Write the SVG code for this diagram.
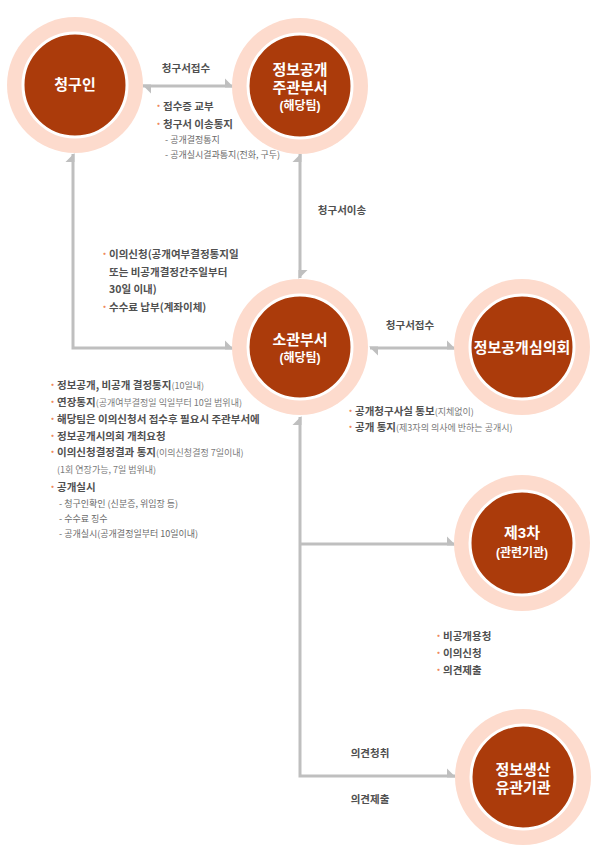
<svg xmlns="http://www.w3.org/2000/svg" width="603" height="849" viewBox="0 0 603 849">
<style>
text{font-family:"Noto Sans CJK KR","Noto Sans",sans-serif;}
.outer{fill:#fddbcd;}
.inner{fill:#ab3b0b;stroke:#ffffff;stroke-width:3;}
.nt{font-family:"Liberation Sans","Noto Sans CJK KR",sans-serif;fill:#ffffff;font-size:15px;font-weight:bold;text-anchor:middle;}
.ns{fill:#ffffff;font-size:12px;font-weight:bold;}
.lbl{fill:#505050;font-size:10.5px;font-weight:bold;}
.bt{fill:#505050;font-size:10.5px;font-weight:bold;}
.dot{fill:#f08a5d;font-weight:bold;font-size:12px;}
.sm{fill:#7a7a7a;font-size:9px;font-weight:normal;}
.sub{fill:#6a6a6a;font-size:9px;}
.ln{fill:none;stroke:#bfbfbf;stroke-width:3;}
</style>
<defs>
<marker id="h" viewBox="-10 -10 13 14" refX="0" refY="0" markerWidth="13" markerHeight="14" markerUnits="userSpaceOnUse" orient="auto-start-reverse">
<path d="M-8,-7.5 L1,1.5 L-8,1.5 Z" fill="#bfbfbf"/>
</marker>
</defs>

<g id="connectors">
<path class="ln" d="M143,86 H233" marker-start="url(#h)" marker-end="url(#h)"/>
<path class="ln" d="M300,154 V278" marker-start="url(#h)" marker-end="url(#h)"/>
<path class="ln" d="M233,348 H73 V154" marker-start="url(#h)" marker-end="url(#h)"/>
<path class="ln" d="M370,348 H455" marker-start="url(#h)" marker-end="url(#h)"/>
<path class="ln" d="M300,417 V776 H455" marker-start="url(#h)" marker-end="url(#h)"/>
<path class="ln" d="M300,544 H455" marker-end="url(#h)"/>
</g>

<g id="node-requester">
<circle class="outer" cx="75" cy="85" r="68"/>
<circle class="inner" cx="75" cy="85" r="52"/>
<text class="nt" x="75" y="90">청구인</text>
</g>

<g id="node-main-dept">
<circle class="outer" cx="300" cy="86" r="68"/>
<circle class="inner" cx="300" cy="86" r="52"/>
<text class="nt" x="300" y="75">정보공개<tspan x="300" dy="18">주관부서</tspan><tspan class="ns" x="300" dy="17">(해당팀)</tspan></text>
</g>

<g id="node-dept">
<circle class="outer" cx="300" cy="347" r="68"/>
<circle class="inner" cx="300" cy="347" r="52"/>
<text class="nt" x="300" y="345">소관부서<tspan class="ns" x="300" dy="17">(해당팀)</tspan></text>
</g>

<g id="node-committee">
<circle class="outer" cx="522" cy="347" r="68"/>
<circle class="inner" cx="522" cy="347" r="52"/>
<text class="nt" x="522" y="353">정보공개심의회</text>
</g>

<g id="node-third">
<circle class="outer" cx="522" cy="543" r="68"/>
<circle class="inner" cx="522" cy="543" r="52"/>
<text class="nt" x="522" y="538">제3차<tspan class="ns" x="522" dy="19">(관련기관)</tspan></text>
</g>

<g id="node-producer">
<circle class="outer" cx="523" cy="777" r="68"/>
<circle class="inner" cx="523" cy="777" r="52"/>
<text class="nt" x="523" y="775">정보생산<tspan x="523" dy="18">유관기관</tspan></text>
</g>

<g id="labels">
<text class="lbl" x="186" y="72" text-anchor="middle">청구서접수</text>
<text class="bt" x="155" y="110"><tspan class="dot">·</tspan><tspan x="163">접수증 교부</tspan></text>
<text class="bt" x="155" y="128"><tspan class="dot">·</tspan><tspan x="163">청구서 이송통지</tspan></text>
<text class="sub" x="165" y="143">- 공개결정통지</text>
<text class="sub" x="165" y="158">- 공개실시결과통지(전화, 구두)</text>

<text class="lbl" x="342" y="214" text-anchor="middle">청구서이송</text>

<text class="bt" x="101" y="258"><tspan class="dot">·</tspan><tspan x="109">이의신청(공개여부결정통지일</tspan></text>
<text class="bt" x="109" y="276">또는 비공개결정간주일부터</text>
<text class="bt" x="109" y="293">30일 이내)</text>
<text class="bt" x="101" y="311"><tspan class="dot">·</tspan><tspan x="109">수수료 납부(계좌이체)</tspan></text>

<text class="lbl" x="410" y="329" text-anchor="middle">청구서접수</text>

<text class="bt" x="49" y="389"><tspan class="dot">·</tspan><tspan x="57">정보공개, 비공개 결정통지</tspan><tspan class="sm">(10일내)</tspan></text>
<text class="bt" x="49" y="406"><tspan class="dot">·</tspan><tspan x="57">연장통지</tspan><tspan class="sm">(공개여부결정일 익일부터 10일 범위내)</tspan></text>
<text class="bt" x="49" y="423"><tspan class="dot">·</tspan><tspan x="57">해당팀은 이의신청서 접수후 필요시 주관부서에</tspan></text>
<text class="bt" x="49" y="440"><tspan class="dot">·</tspan><tspan x="57">정보공개시의회 개최요청</tspan></text>
<text class="bt" x="49" y="456"><tspan class="dot">·</tspan><tspan x="57">이의신청결정결과 통지</tspan><tspan class="sm">(이의신청결정 7일이내)</tspan></text>
<text class="sm" x="57" y="473">(1회 연장가능, 7일 범위내)</text>
<text class="bt" x="49" y="491"><tspan class="dot">·</tspan><tspan x="57">공개실시</tspan></text>
<text class="sub" x="59" y="507">- 청구인확인 (신분증, 위임장 등)</text>
<text class="sub" x="59" y="522">- 수수료 징수</text>
<text class="sub" x="59" y="537">- 공개실시(공개결정일부터 10일이내)</text>

<text class="bt" x="347" y="415"><tspan class="dot">·</tspan><tspan x="355">공개청구사실 통보</tspan><tspan class="sm">(지체없이)</tspan></text>
<text class="bt" x="347" y="431"><tspan class="dot">·</tspan><tspan x="355">공개 통지</tspan><tspan class="sm">(제3자의 의사에 반하는 공개시)</tspan></text>

<text class="bt" x="435" y="640"><tspan class="dot">·</tspan><tspan x="443">비공개용청</tspan></text>
<text class="bt" x="435" y="657"><tspan class="dot">·</tspan><tspan x="443">이의신청</tspan></text>
<text class="bt" x="435" y="674"><tspan class="dot">·</tspan><tspan x="443">의견제출</tspan></text>

<text class="lbl" x="370" y="757" text-anchor="middle">의견청취</text>
<text class="lbl" x="370" y="803" text-anchor="middle">의견제출</text>
</g>
</svg>
